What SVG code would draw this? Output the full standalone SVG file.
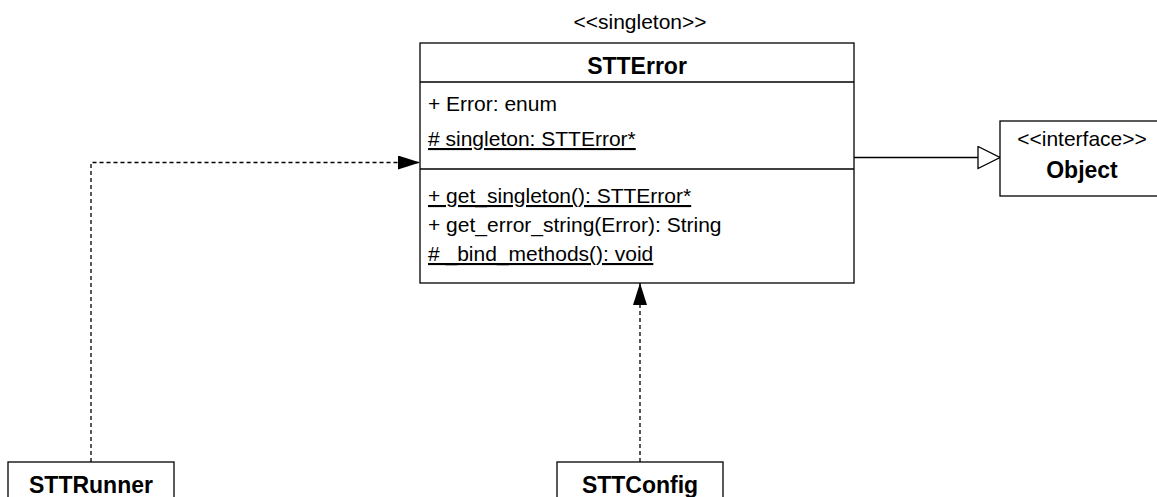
<svg xmlns="http://www.w3.org/2000/svg" width="1157" height="497" viewBox="0 0 1157 497">
  <style>
    .box { fill: #ffffff; stroke: #000000; stroke-width: 1.3; }
    .sep { stroke: #000000; stroke-width: 1.3; fill: none; }
    .t { font-family: "Liberation Sans", Arial, Helvetica, sans-serif; font-size: 21px; fill: #000000; }
    .b { font-family: "Liberation Sans", Arial, Helvetica, sans-serif; font-size: 23px; font-weight: bold; fill: #000000; }
    .c { text-anchor: middle; }
    .u { text-decoration: underline; }
    .dash { fill: none; stroke: #000000; stroke-width: 1.3; stroke-dasharray: 4 3; }
    .solid { fill: none; stroke: #000000; stroke-width: 1.3; }
  </style>
  <defs>
    <marker id="filled" viewBox="0 0 22 14" refX="22" refY="7" markerWidth="22" markerHeight="14" markerUnits="userSpaceOnUse" orient="auto">
      <path d="M0,0 L22,7 L0,14 Z" fill="#000000"/>
    </marker>
    <marker id="hollow" viewBox="-1 -1 24 24" refX="22" refY="11" markerWidth="24" markerHeight="24" markerUnits="userSpaceOnUse" orient="auto">
      <path d="M0,0 L22,11 L0,22 Z" fill="#ffffff" stroke="#000000" stroke-width="1.3"/>
    </marker>
  </defs>

  <g id="connectors">
    <path class="dash" d="M91,462 L91,162.5 L420,162.5" marker-end="url(#filled)"/>
    <path class="dash" d="M640,462 L640,283" marker-end="url(#filled)"/>
    <path class="solid" d="M854,157.5 L1000,157.5" marker-end="url(#hollow)"/>
  </g>

  <g id="STTError">
    <text class="t c" x="640" y="29">&lt;&lt;singleton&gt;&gt;</text>
    <rect class="box" x="420" y="43" width="434" height="240"/>
    <line class="sep" x1="420" y1="82" x2="854" y2="82"/>
    <line class="sep" x1="420" y1="169" x2="854" y2="169"/>
    <text class="b c" x="637" y="74">STTError</text>
    <text class="t" x="428" y="111">+ Error: enum</text>
    <text class="t u" x="428" y="146">#  singleton: STTError*</text>
    <text class="t u" x="428" y="203">+ get_singleton(): STTError*</text>
    <text class="t" x="428" y="232">+ get_error_string(Error): String</text>
    <text class="t u" x="428" y="261"># _bind_methods(): void</text>
  </g>

  <g id="Object">
    <rect class="box" x="1000" y="121" width="164" height="75"/>
    <text class="t c" x="1082" y="146">&lt;&lt;interface&gt;&gt;</text>
    <text class="b c" x="1082" y="178">Object</text>
  </g>

  <g id="STTRunner">
    <rect class="box" x="8" y="462" width="166" height="50"/>
    <text class="b c" x="91" y="493">STTRunner</text>
  </g>

  <g id="STTConfig">
    <rect class="box" x="557" y="462" width="166" height="50"/>
    <text class="b c" x="640" y="493">STTConfig</text>
  </g>
</svg>
